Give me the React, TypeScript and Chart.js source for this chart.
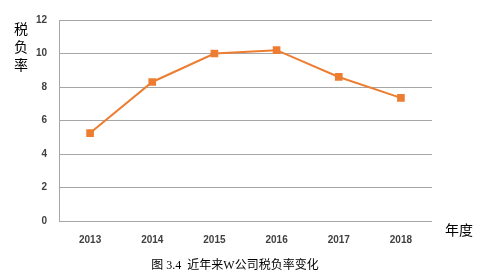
import React, { useEffect, useRef } from "react";
import { Chart, registerables } from "chart.js";

Chart.register(...registerables);

const years = ["2013", "2014", "2015", "2016", "2017", "2018"];
const taxRate = [5.25, 8.3, 10.0, 10.2, 8.6, 7.35];
const yTicks = [0, 2, 4, 6, 8, 10, 12];
const yTitle = ["税", "负", "率"];
const xTitle = "年度";
const caption = "图 3.4  近年来W公司税负率变化";

const textPlugin = {
  id: "texts",
  afterDraw(chart: any) {
    const ctx = chart.ctx;
    const a = chart.chartArea;
    ctx.save();
    ctx.fillStyle = "#000";
    ctx.textAlign = "center";
    ctx.textBaseline = "middle";
    ctx.font = "14px 'Noto Sans CJK SC'";
    yTitle.forEach((c, i) => ctx.fillText(c, 21, 29 + i * 18));
    ctx.fillText(xTitle, a.right + 27, a.bottom + 9);
    ctx.font = "12px 'Liberation Serif', 'Noto Sans CJK SC'";
    ctx.fillText(caption, 235, 266);
    ctx.restore();
  },
};

export default function App() {
  const ref = useRef<HTMLCanvasElement>(null);
  useEffect(() => {
    document.body.style.margin = "0";
    const chart = new Chart(ref.current!, {
      type: "line",
      data: {
        labels: years,
        datasets: [
          {
            data: taxRate,
            borderColor: "#ED7D31",
            backgroundColor: "#ED7D31",
            borderWidth: 2,
            pointStyle: "rect",
            pointRadius: 4,
            pointHoverRadius: 4,
            tension: 0,
          },
        ],
      },
      options: {
        responsive: false,
        animation: false,
        layout: { padding: { left: 0, top: 20, right: 63, bottom: 0 } },
        plugins: { legend: { display: false }, tooltip: { enabled: false } },
        scales: {
          x: {
            offset: true,
            grid: { display: false, drawTicks: false },
            border: { display: false },
            ticks: {
              padding: 13,
              color: "#404040",
              font: { family: "'Liberation Sans'", size: 10, weight: "bold" },
            },
            afterFit(scale: any) {
              scale.height = 57;
            },
          },
          y: {
            min: 0,
            max: 12,
            afterBuildTicks(scale: any) {
              scale.ticks = yTicks.map((v) => ({ value: v }));
            },
            grid: { color: "#a6a6a6", drawTicks: false, lineWidth: 1 },
            border: { display: true, color: "#a6a6a6", width: 1 },
            ticks: {
              padding: 12,
              color: "#404040",
              font: { family: "'Liberation Sans'", size: 10, weight: "bold" },
            },
            afterFit(scale: any) {
              scale.width = 59;
            },
          },
        },
      },
      plugins: [textPlugin],
    });
    return () => chart.destroy();
  }, []);
  return (
    <div style={{ position: "absolute", left: 0, top: 0, width: 495, height: 278, background: "#fff" }}>
      <canvas ref={ref} width={495} height={278} />
    </div>
  );
}
